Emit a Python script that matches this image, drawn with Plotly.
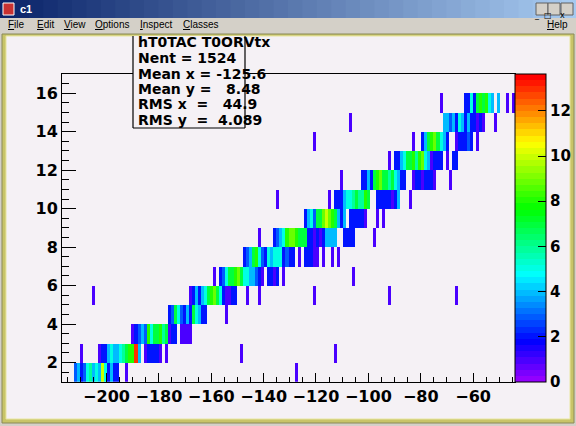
import colorsys
import plotly.graph_objects as go

W, H = 576, 426

# ---- histogram binning
X_MIN, X_MAX, NBX = -217.0, -44.0, 150
Y_MIN, Y_MAX, NBY = 1, 17, 16
Z_MAX = 13.65

# ---- counts per y row (row k covers y in [k, k+1)): first x-bin of the run + run of counts
row_start = [4, 12, 23, 35, 42, 50, 60, 70, 80, 90, 99, 110, 119, 126, 133]
row_y01 = [3, 4, 2, 3, 5, 6, 4, 5, 4, 10, 5, 2, 4, 2, 2]
row_y02 = [1, 2, 2, 4, 5, 4, 4, 5, 6, 7, 8, 8, 13, 4, 0, 1, 2, 2, 2, 2, 1, 0, 1]
row_y03 = [1, 2, 3, 4, 3, 8, 5, 7, 7, 8, 6, 7, 1, 2, 2, 0, 1, 1, 1, 1]
row_y04 = [2, 3, 7, 5, 3, 2, 4, 2, 7, 5, 4, 2, 2]
row_y05 = [1, 2, 4, 2, 4, 5, 7, 8, 9, 7, 5, 2, 1, 1, 2, 2]
row_y06 = [1, 0, 2, 3, 5, 7, 7, 8, 9, 7, 5, 5, 4, 4, 3, 2, 1, 0, 2, 2, 1, 2, 0, 1]
row_y07 = [2, 3, 4, 7, 8, 5, 3, 2, 5, 4, 5, 5, 5, 2, 3, 2, 2, 0, 1, 0, 2, 2, 2, 1, 1, 0, 1, 0, 0, 1, 0, 1]
row_y08 = [2, 3, 4, 5, 8, 9, 9, 8, 7, 7, 7, 2, 2, 1, 2, 1, 2, 4, 4, 4, 4, 0, 0, 2, 2, 2, 2]
row_y09 = [2, 4, 5, 3, 7, 7, 9, 10, 9, 8, 7, 4, 2, 4, 0, 2, 2, 2, 2, 2, 1]
row_y10 = [2, 2, 2, 4, 5, 5, 6, 7, 6, 6, 8, 7, 0, 0, 2, 2, 2, 2, 2, 1, 2, 4]
row_y11 = [2, 2, 4, 2, 7, 8, 9, 7, 7, 6, 7, 5, 4, 2, 2, 0, 0, 1, 2, 2, 1, 2, 2, 2, 1]
row_y12 = [2, 2, 4, 5, 7, 7, 8, 6, 8, 9, 5, 4, 1, 2, 2, 2, 0, 1, 0, 2, 2]
row_y13 = [2, 4, 7, 8, 9, 7, 5, 4, 2, 0, 0, 1, 2, 2, 2, 3, 2, 0, 1]
row_y14 = [4, 4, 3, 4, 2, 5, 4, 2, 4, 2, 2, 1, 2, 1]
row_y15 = [2, 2, 5, 2, 7, 8, 7, 8, 5, 4, 0, 4]

# ---- isolated single entries: (y row, x bin)
single_row = [1, 1, 2, 2, 2, 4, 5, 5, 5, 5, 5, 5, 6, 8, 8, 9, 9,
              10, 10, 10, 11, 11, 12, 13, 13, 14, 14, 15, 15, 15]
single_bin = [21, 77, 6, 59, 90, 54, 10, 61, 65, 83, 108, 130, 96, 65, 103, 104, 106,
              71, 88, 115, 92, 128, 108, 83, 116, 95, 143, 125, 147, 149]

stats_lines = ["hT0TAC T0ORVtx", "Nent = 1524", "Mean x = -125.6",
               "Mean y =   8.48", "RMS x  =   44.9", "RMS y  =  4.089"]

menu_items = ["File", "Edit", "View", "Options", "Inspect", "Classes"]
menu_pos = [6, 35, 62, 93, 138, 181]

# ---------------------------------------------------------------------------
rows = [row_y01, row_y02, row_y03, row_y04, row_y05, row_y06, row_y07, row_y08,
        row_y09, row_y10, row_y11, row_y12, row_y13, row_y14, row_y15]

bw = (X_MAX - X_MIN) / NBX
xc = [X_MIN + (i + 0.5) * bw for i in range(NBX)]
yc = [Y_MIN + k + 0.5 for k in range(NBY)]
z = [[None] * NBX for _ in range(NBY)]
for k, (s, counts) in enumerate(zip(row_start, rows)):
    for j, c in enumerate(counts):
        if c > 0:
            z[k][s + j] = c
for r, b in zip(single_row, single_bin):
    z[r - 1][b] = 1

# ROOT "pretty" palette: 50 hues violet -> red
cs = []
for i in range(50):
    hue = 280 - (i + 1) * 280 / 50
    r, g, b = colorsys.hls_to_rgb(hue / 360, 0.5, 1.0)
    col = f"rgb({int(r*255)},{int(g*255)},{int(b*255)})"
    cs += [[i / 50, col], [(i + 1) / 50, col]]


def px(x):
    return x / W


def py(y):
    return 1 - y / H


CANVAS = "#f5f1f5"
FR_L, FR_R, FR_T, FR_B = 62, 515, 74, 381.7
tickfont = dict(family="DejaVu Sans", size=16, color="black", weight="bold")

fig = go.Figure()
fig.add_trace(go.Heatmap(
    x=xc, y=yc, z=z, zmin=0, zmax=Z_MAX, colorscale=cs, hoverongaps=False,
    colorbar=dict(
        x=px(FR_R), xanchor="left", xpad=0, ypad=0,
        y=py(FR_B), yanchor="bottom", len=(FR_B - FR_T) / H, lenmode="fraction",
        thickness=31, thicknessmode="pixels",
        outlinewidth=1, outlinecolor="black",
        ticks="inside", ticklen=8, tickcolor="black",
        tick0=0, dtick=2, tickfont=dict(tickfont, size=15),
    ),
))

shapes = []
# title bar gradient
n = 40
for i in range(n):
    t = i / (n - 1)
    c0, c1 = (10, 36, 106), (166, 202, 240)
    col = "rgb(%d,%d,%d)" % tuple(int(a + (b - a) * t) for a, b in zip(c0, c1))
    shapes.append(dict(type="rect", xref="paper", yref="paper", layer="below",
                       x0=px(i * W / n), x1=px((i + 1) * W / n + 1), y0=py(18), y1=py(0),
                       fillcolor=col, line=dict(width=0)))
# icon and window buttons
shapes.append(dict(type="rect", xref="paper", yref="paper", x0=px(3), x1=px(14), y0=py(15), y1=py(3),
                   fillcolor="#c83232", line=dict(color="#ffffff", width=1)))
for bx in [536, 548, 561]:
    shapes.append(dict(type="rect", xref="paper", yref="paper", x0=px(bx), x1=px(bx + 12),
                       y0=py(15), y1=py(3), fillcolor="#d4d0c8", line=dict(color="#606060", width=1)))
# canvas area with olive bevel
shapes.append(dict(type="rect", xref="paper", yref="paper", layer="below",
                   x0=px(2), x1=px(574), y0=py(423), y1=py(34),
                   fillcolor="#c8c468", line=dict(color="#8a8a58", width=1)))
shapes.append(dict(type="rect", xref="paper", yref="paper", layer="below",
                   x0=px(6), x1=px(570), y0=py(419), y1=py(36),
                   fillcolor=CANVAS, line=dict(color="#e8e6a0", width=1)))
# stats box
shapes.append(dict(type="rect", xref="paper", yref="paper", x0=px(133), x1=px(245),
                   y0=py(128), y1=py(36), fillcolor=CANVAS, line=dict(width=0)))
for x0, y0, x1, y1 in [(133, 36, 133, 128), (133, 128, 245, 128), (245, 36, 245, 128)]:
    shapes.append(dict(type="line", xref="paper", yref="paper", x0=px(x0), x1=px(x1),
                       y0=py(y0), y1=py(y1), line=dict(color="black", width=1.2)))

ann = []
ann.append(dict(text="<b>c1</b>", x=px(18), y=py(9), xref="paper", yref="paper", xanchor="left",
                yanchor="middle", showarrow=False,
                font=dict(family="Liberation Sans", size=11, color="white")))
for bx, g in zip([536, 548, 561], ["_", "□", "x"]):
    ann.append(dict(text=g, x=px(bx + 6), y=py(9), xref="paper", yref="paper", showarrow=False,
                    font=dict(family="DejaVu Sans", size=8, color="black")))
for name, mx in zip(menu_items, menu_pos):
    ann.append(dict(text="<u>%s</u>%s" % (name[0], name[1:]), x=px(mx), y=py(25),
                    xref="paper", yref="paper", xanchor="left", yanchor="middle", showarrow=False,
                    font=dict(family="Liberation Sans", size=10, color="black")))
ann.append(dict(text="<u>H</u>elp", x=px(570), y=py(25), xref="paper", yref="paper",
                xanchor="right", yanchor="middle", showarrow=False,
                font=dict(family="Liberation Sans", size=10, color="black")))

sfont = dict(family="DejaVu Sans", size=14, color="black", weight="bold")
line_y = [42, 57.5, 73.5, 89, 104.5, 120]
for txt, ly in zip(stats_lines, line_y):
    ann.append(dict(text=txt.replace(" ", "\u00a0"), x=px(137), y=py(ly), xref="paper", yref="paper",
                    xanchor="left", yanchor="middle", showarrow=False, font=sfont, borderpad=0))

fig.update_layout(
    width=W, height=H, margin=dict(l=0, r=0, t=0, b=0, autoexpand=False),
    paper_bgcolor="#d4d0c8", plot_bgcolor=CANVAS,
    shapes=shapes, annotations=ann, showlegend=False,
    xaxis=dict(domain=[px(FR_L), px(FR_R)], range=[X_MIN, X_MAX], automargin=False,
               tick0=0, dtick=20, ticks="inside", ticklen=9, tickcolor="black",
               minor=dict(dtick=5, ticks="inside", ticklen=4.5, tickcolor="black"),
               showline=True, linecolor="black", linewidth=1, mirror=True,
               showgrid=False, zeroline=False, tickfont=tickfont),
    yaxis=dict(domain=[py(FR_B), py(FR_T)], range=[Y_MIN, Y_MAX], automargin=False,
               tick0=0, dtick=2, ticks="inside", ticklen=14, tickcolor="black",
               minor=dict(dtick=0.5, ticks="inside", ticklen=7, tickcolor="black"),
               showline=True, linecolor="black", linewidth=1, mirror=True,
               showgrid=False, zeroline=False, tickfont=tickfont),
)

fig.write_html("out.html", config={"displayModeBar": False},
               post_script="document.body.style.margin='0';")
